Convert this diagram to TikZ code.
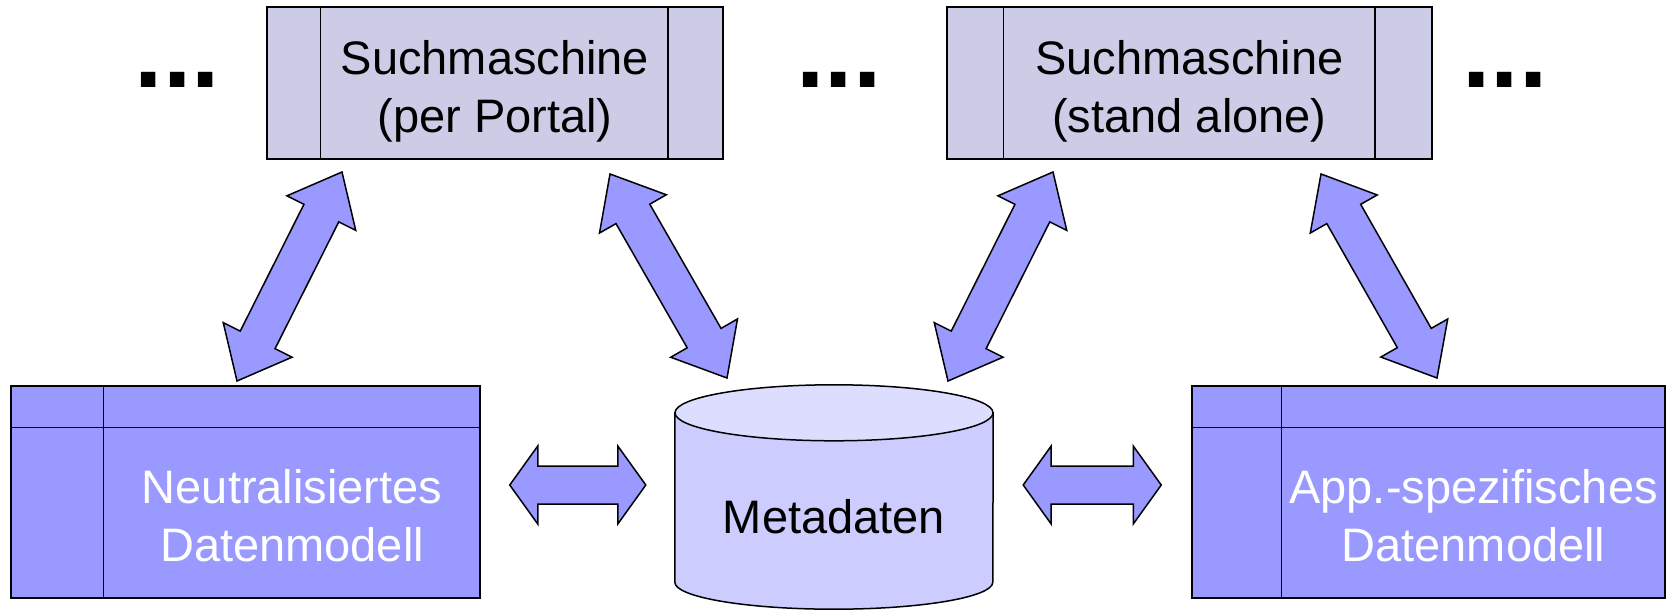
\documentclass[tikz,border=0pt]{standalone}
\usepackage{fontspec}
\setmainfont{Liberation Sans}
\usetikzlibrary{calc}
\definecolor{topfill}{HTML}{CCCCE6}
\definecolor{bluefill}{HTML}{9999FF}
\definecolor{cylside}{HTML}{CCCCFF}
\definecolor{cyltop}{HTML}{DDDDFF}
\tikzset{
  frame/.style={draw=black, line width=1.5pt},
  topbox/.style={frame, fill=topfill, inner sep=0pt},
  databox/.style={frame, fill=bluefill, inner sep=0pt},
  blockarrow/.style={frame, fill=bluefill, line join=miter},
  lbl/.style={inner sep=0pt, align=center, font=\fontsize{47}{58}\selectfont},
  dots/.style={inner sep=0pt, anchor=base, font=\bfseries\fontsize{102}{110}\selectfont},
}
% double block arrow between two named coordinates
% #1 from, #2 to, #3 head length, #4 half head width, #5 half shaft width
\newcommand\dblarr[5]{%
  \coordinate (#1-n1) at ($(#1)!#3!(#2)$);
  \coordinate (#1-n2) at ($(#2)!#3!(#1)$);
  \draw[blockarrow] (#1)
    -- ($(#1-n1)!#4!90:(#2)$) -- ($(#1-n1)!#5!90:(#2)$)
    -- ($(#1-n2)!#5!-90:(#1)$) -- ($(#1-n2)!#4!-90:(#1)$)
    -- (#2)
    -- ($(#1-n2)!#4!90:(#1)$) -- ($(#1-n2)!#5!90:(#1)$)
    -- ($(#1-n1)!#5!-90:(#2)$) -- ($(#1-n1)!#4!-90:(#2)$) -- cycle;}
\begin{document}
\begin{tikzpicture}[x=1pt, y=-1pt]
\useasboundingbox (0,0) rectangle (1673,610);

% top search engine boxes
\node[topbox, minimum width=456pt, minimum height=152pt] (s1) at (495,83) {};
\draw[frame] ($(s1.north west)+(54,0)$) -- ($(s1.south west)+(54,0)$);
\draw[frame] ($(s1.north east)+(-56,0)$) -- ($(s1.south east)+(-56,0)$);
\node[lbl] (s1t) at (495,91) {Suchmaschine\\(per Portal)};

\node[topbox, minimum width=485pt, minimum height=152pt] (s2) at (1189.5,83) {};
\draw[frame] ($(s2.north west)+(57,0)$) -- ($(s2.south west)+(57,0)$);
\draw[frame] ($(s2.north east)+(-58,0)$) -- ($(s2.south east)+(-58,0)$);
\node[lbl] (s2t) at (1189.5,91) {Suchmaschine\\(stand alone)};

% dots
\node[dots] (d1) at (177.5,88) {...};
\node[dots] (d2) at (839,88) {...};
\node[dots] (d3) at (1505,88) {...};

% lower data model boxes
\node[databox, minimum width=469pt, minimum height=212pt] (nd) at (245.5,492) {};
\draw[frame] ($(nd.north west)+(0,42)$) -- ($(nd.north east)+(0,42)$);
\draw[frame] ($(nd.north west)+(93,0)$) -- ($(nd.south west)+(93,0)$);
\node[lbl, text=white] (ndt) at (292,515.5) {Neutralisiertes\\Datenmodell};

\node[databox, minimum width=473pt, minimum height=212pt] (ad) at (1428.5,492) {};
\draw[frame] ($(ad.north west)+(0,42)$) -- ($(ad.north east)+(0,42)$);
\draw[frame] ($(ad.north west)+(90,0)$) -- ($(ad.south west)+(90,0)$);
\node[lbl, text=white] (adt) at (1473.5,515.5) {App.-spezifisches\\Datenmodell};

% metadata cylinder
\node[inner sep=0pt, minimum width=318pt, minimum height=224pt] (db) at (834,497) {};
\draw[frame, fill=cylside] ($(db.north west)+(0,28)$) -- ($(db.south west)+(0,-27)$)
  arc[start angle=180, end angle=360, x radius=159pt, y radius=27pt]
  -- ($(db.north east)+(0,28)$) -- cycle;
\draw[frame, fill=cyltop] ($(db.north)+(0,28)$) ellipse [x radius=159pt, y radius=28pt];
\node[lbl, anchor=base] (dbt) at (834,533) {Metadaten};

% arrow end points
\coordinate (a1) at (342,172);  \coordinate (b1) at (237,381);
\coordinate (a2) at (610,174);  \coordinate (b2) at (727,378);
\coordinate (a3) at (1053,172); \coordinate (b3) at (948,381);
\coordinate (a4) at (1321,174); \coordinate (b4) at (1437,378);
\coordinate (h1) at ($(nd.east |- 0,485)+(29,0)$);
\coordinate (k1) at ($(db.west |- 0,485)+(-29,0)$);
\coordinate (h2) at ($(db.east |- 0,485)+(30,0)$);
\coordinate (k2) at ($(ad.west |- 0,485)+(-30,0)$);

\dblarr{a1}{b1}{46pt}{38.5pt}{19.5pt}
\dblarr{a2}{b2}{46pt}{38.5pt}{19.5pt}
\dblarr{a3}{b3}{46pt}{38.5pt}{19.5pt}
\dblarr{a4}{b4}{46pt}{38.5pt}{19.5pt}
\dblarr{h1}{k1}{28pt}{39pt}{19pt}
\dblarr{h2}{k2}{28pt}{39pt}{19pt}
\end{tikzpicture}
\end{document}
